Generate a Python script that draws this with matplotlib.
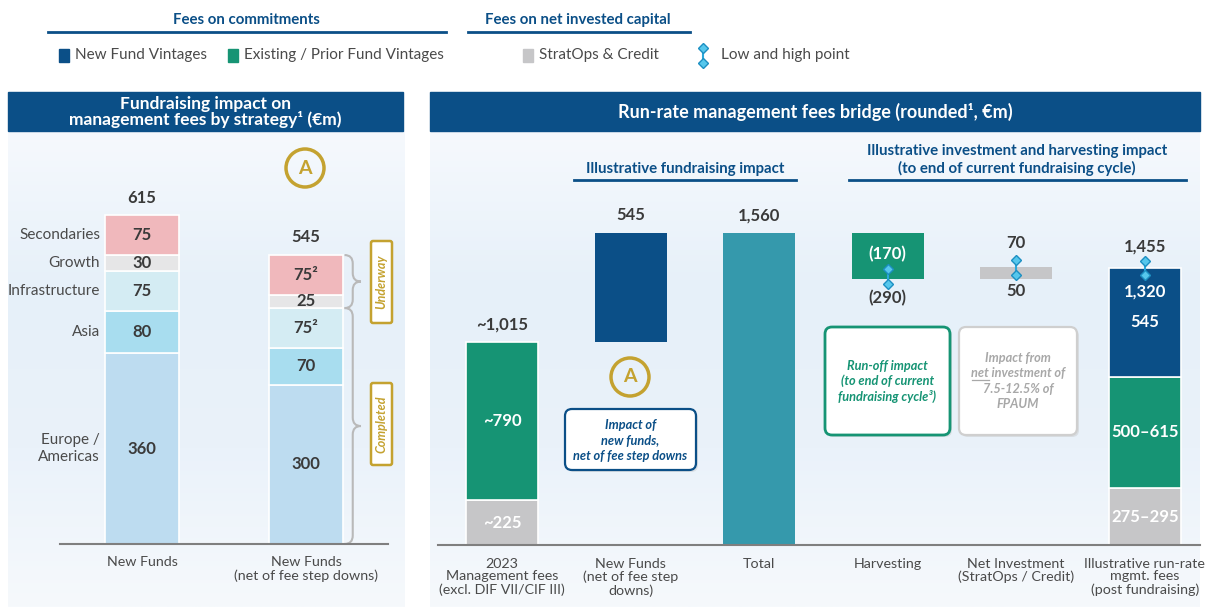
import numpy as np
import matplotlib.pyplot as plt
from matplotlib.patches import Rectangle, FancyBboxPatch, Circle, PathPatch
from matplotlib.path import Path
from matplotlib.colors import LinearSegmentedColormap

plt.rcParams['font.family'] = ['Lato', 'DejaVu Sans']

W, H = 1206, 609

# ---- left chart data ----
strategies = ["Europe /\nAmericas", "Asia", "Infrastructure", "Growth", "Secondaries"]
new_funds = [360, 80, 75, 30, 75]
new_funds_net = [300, 70, 75, 25, 75]
new_funds_labels = ["360", "80", "75", "30", "75"]
new_funds_net_labels = ["300", "70", "75²", "25", "75²"]
left_totals = ["615", "545"]
left_cats = ["New Funds", "New Funds\n(net of fee step downs)"]
strategy_colors = ["#BDDCF0", "#A8DDEF", "#D4ECF3", "#E6E6E7", "#F0B8BC"]

# ---- right chart data ----
bridge_cats = ["2023\nManagement fees\n(excl. DIF VII/CIF III)",
               "New Funds\n(net of fee step\ndowns)",
               "Total", "Harvesting",
               "Net Investment\n(StratOps / Credit)",
               "Illustrative run-rate\nmgmt. fees\n(post fundraising)"]
mgmt_2023 = [225, 790]          # StratOps & Credit, existing vintages
mgmt_2023_labels = ["~225", "~790"]
mgmt_2023_total = "~1,015"
new_fund_impact = 545
total_after = 1560
harvest_range = [170, 290]
net_inv_range = [50, 70]
runrate_stratops = [275, 295]
runrate_existing = [500, 615]
runrate_new = 545
runrate_range = [1320, 1455]
# low / high markers as drawn (illustrative, not to scale)
marker_harvest = [1305, 1380]
marker_netinv = [1350, 1425]
marker_runrate = [1350, 1420]

BLUE = "#0B4F87"
GREEN = "#169474"
GREY = "#C6C6C8"
TEAL = "#3599AC"
GOLD = "#C4A230"
TXT = "#3A3A3A"
LBL = "#4A4A4A"
MK_LINE = "#2AA8DA"
MK_FACE = "#56C7EC"
MK_EDGE = "#1C8FC2"
VAL = 12  # value label size

fig = plt.figure(figsize=(W / 100, H / 100), dpi=100)
fig.patch.set_facecolor("white")

bg = fig.add_axes([0, 0, 1, 1])
bg.set_xlim(0, W)
bg.set_ylim(H, 0)
bg.axis("off")

# panel gradients
cmap = LinearSegmentedColormap.from_list(
    "bgpanel", ["#F6F9FD", "#E6F0F9", "#EAF2FA", "#F6F9FC"])
grad = np.linspace(0, 1, 256).reshape(-1, 1)
for x0, x1 in [(8, 405), (430, 1200)]:
    bg.imshow(grad, cmap=cmap, aspect="auto", extent=(x0, x1, 607, 131),
              zorder=0)
bg.set_xlim(0, W)
bg.set_ylim(H, 0)

# header bands
bg.add_patch(Rectangle((8, 92), 395, 39, color=BLUE, zorder=1))
bg.add_patch(Rectangle((430, 92), 770, 39, color=BLUE, zorder=1))
bg.text(205, 112, "Fundraising impact on\nmanagement fees by strategy¹ (€m)",
        color="white", fontsize=12.5, fontweight="bold", ha="center",
        va="center", linespacing=1.0, zorder=2)
bg.text(815, 112, "Run-rate management fees bridge (rounded¹, €m)",
        color="white", fontsize=13, fontweight="bold", ha="center",
        va="center", zorder=2)

# top legend
bg.text(246, 20, "Fees on commitments", color=BLUE, fontsize=10.8,
        fontweight="bold", ha="center", va="center")
bg.plot([48, 446], [32, 32], color=BLUE, lw=2)
bg.text(578, 20, "Fees on net invested capital", color=BLUE, fontsize=10.8,
        fontweight="bold", ha="center", va="center")
bg.plot([468, 690], [32, 32], color=BLUE, lw=2)
for x, c, t in [(59, BLUE, "New Fund Vintages"),
                (228, GREEN, "Existing / Prior Fund Vintages"),
                (523, GREY, "StratOps & Credit")]:
    bg.add_patch(Rectangle((x, 49), 10, 13, color=c))
    bg.text(x + 16, 55.5, t, color=LBL, fontsize=11, va="center")
bg.plot([703, 703], [48, 63], color=MK_LINE, lw=1.5, marker="D", ms=5,
        mfc=MK_FACE, mec=MK_EDGE)
bg.text(721, 55.5, "Low and high point", color=LBL, fontsize=11, va="center")


def circle_a(x, y):
    bg.add_patch(Circle((x, y), 19, facecolor="none", edgecolor=GOLD, lw=2.5,
                        zorder=3))
    bg.text(x, y, "A", color=GOLD, fontsize=14, fontweight="bold",
            ha="center", va="center", zorder=4)


def note_box(x, y, w, h, edge, lines, color, ys, lw=1.6):
    bg.add_patch(FancyBboxPatch((x + 2, y + 2), w, h,
                                boxstyle="round,pad=0,rounding_size=7",
                                facecolor="#D9DEE3", edgecolor="none",
                                zorder=2))
    bg.add_patch(FancyBboxPatch((x, y), w, h,
                                boxstyle="round,pad=0,rounding_size=7",
                                facecolor="white", edgecolor=edge, lw=lw,
                                zorder=3))
    texts = []
    for t, yy in zip(lines, ys):
        texts.append(bg.text(x + w / 2, yy, t, color=color, fontsize=9.2,
                             fontweight="bold", style="italic", ha="center",
                             va="baseline", zorder=4))
    return texts


# ---------- left chart ----------
axL = fig.add_axes([60 / W, 1 - 544 / H, 328 / W, 404 / H])
axL.set_facecolor("none")
axL.set_xlim(-0.5, 1.5)
axL.set_ylim(0, 762)
bw = 0.45
for i, (vals, labs) in enumerate([(new_funds, new_funds_labels),
                                  (new_funds_net, new_funds_net_labels)]):
    bottoms = np.concatenate([[0], np.cumsum(vals)[:-1]])
    axL.bar(i, vals, bw, bottom=bottoms, color=strategy_colors,
            edgecolor="white", lw=1.2)
    for b, v, t in zip(bottoms, vals, labs):
        axL.text(i, b + v / 2, t, color=TXT, fontsize=VAL, fontweight="bold",
                 ha="center", va="center")
    axL.annotate(left_totals[i], (i, sum(vals)), xytext=(0, 7),
                 textcoords="offset points", ha="center", va="bottom",
                 color=TXT, fontsize=VAL, fontweight="bold")
bottoms0 = np.concatenate([[0], np.cumsum(new_funds)[:-1]])
for b, v, s in zip(bottoms0, new_funds, strategies):
    axL.text(-bw / 2 - 0.03, b + v / 2, s, color=LBL, fontsize=11,
             ha="right", va="center", linespacing=1.2)
axL.set_xticks([0, 1], left_cats)
axL.tick_params(length=0, pad=9, labelsize=10.3, labelcolor=LBL)
for lab in axL.get_xticklabels():
    lab.set_linespacing(1.1)
for s in ["top", "right", "left"]:
    axL.spines[s].set_visible(False)
axL.spines["bottom"].set_color("#7F7F7F")
axL.spines["bottom"].set_linewidth(1.5)
axL.set_yticks([])


def brace(ax, x, y0, y1, w, d, color="#B9B9B9"):
    ym = (y0 + y1) / 2
    verts = [(x, y1), (x + w / 2, y1), (x + w / 2, y1 - d),
             (x + w / 2, ym + d),
             (x + w / 2, ym), (x + w, ym),
             (x + w / 2, ym), (x + w / 2, ym - d),
             (x + w / 2, y0 + d),
             (x + w / 2, y0), (x, y0)]
    codes = [Path.MOVETO, Path.CURVE3, Path.CURVE3, Path.LINETO,
             Path.CURVE3, Path.CURVE3, Path.CURVE3, Path.CURVE3,
             Path.LINETO, Path.CURVE3, Path.CURVE3]
    ax.add_patch(PathPatch(Path(verts, codes), facecolor="none",
                           edgecolor=color, lw=1.5, clip_on=False))


cum_net = np.cumsum(new_funds_net)
brace(axL, 1 + bw / 2 + 0.01, cum_net[2], cum_net[4], 0.1, 16)
brace(axL, 1 + bw / 2 + 0.01, 0, cum_net[2], 0.1, 16)

for yc, t in [(282, "Underway"), (424, "Completed")]:
    bg.add_patch(FancyBboxPatch((371, yc - 41), 21, 82,
                                boxstyle="round,pad=0,rounding_size=2",
                                facecolor="white", edgecolor=GOLD, lw=1.8,
                                zorder=3))
    bg.text(381.5, yc, t, color=GOLD, fontsize=9, fontweight="bold",
            style="italic", rotation=90, ha="center", va="center", zorder=4)
circle_a(305, 168)

# ---------- right chart ----------
axR = fig.add_axes([438 / W, 1 - 545 / H, 762 / W, 405 / H])
axR.set_facecolor("none")
axR.set_xlim(-0.5, 5.43)
axR.set_ylim(0, 2025)
rw = 0.56

# 2023 management fees
axR.bar(0, mgmt_2023, rw, bottom=[0, mgmt_2023[0]], color=[GREY, GREEN],
        edgecolor="white", lw=1.2)
for b, v, t in zip([0, mgmt_2023[0]], mgmt_2023, mgmt_2023_labels):
    axR.text(0, b + v / 2, t, color="white", fontsize=VAL, fontweight="bold",
             ha="center", va="center")
start = sum(mgmt_2023)
axR.annotate(mgmt_2023_total, (0, start), xytext=(0, 7),
             textcoords="offset points", ha="center", va="bottom", color=TXT,
             fontsize=VAL, fontweight="bold")

# new funds (floating)
axR.bar(1, new_fund_impact, rw, bottom=start, color=BLUE)
axR.annotate(f"{new_fund_impact:,}", (1, start + new_fund_impact),
             xytext=(0, 7), textcoords="offset points", ha="center",
             va="bottom", color=TXT, fontsize=VAL, fontweight="bold")

# total
axR.bar(2, total_after, rw, color=TEAL)
axR.annotate(f"{total_after:,}", (2, total_after), xytext=(0, 7),
             textcoords="offset points", ha="center", va="bottom", color=TXT,
             fontsize=VAL, fontweight="bold")

# harvesting
h_mid = np.mean(harvest_range)
h_bot = total_after - h_mid
axR.bar(3, h_mid, rw, bottom=h_bot, color=GREEN)
axR.text(3, h_bot + h_mid / 2 + 10, f"({harvest_range[0]})", color="white",
         fontsize=VAL, fontweight="bold", ha="center", va="center")
axR.annotate(f"({harvest_range[1]})", (3, h_bot), xytext=(0, -14),
             textcoords="offset points", ha="center", va="center", color=TXT,
             fontsize=VAL, fontweight="bold")

# net investment
n_mid = np.mean(net_inv_range)
axR.bar(4, n_mid, rw, bottom=h_bot, color=GREY)
axR.annotate(f"{net_inv_range[1]}", (4, h_bot + n_mid), xytext=(0, 17),
             textcoords="offset points", ha="center", va="center", color=TXT,
             fontsize=VAL, fontweight="bold")
axR.annotate(f"{net_inv_range[0]}", (4, h_bot), xytext=(0, -9),
             textcoords="offset points", ha="center", va="center", color=TXT,
             fontsize=VAL, fontweight="bold")

# illustrative run-rate
rr = [np.mean(runrate_stratops), np.mean(runrate_existing), runrate_new]
rr_b = [0, rr[0], rr[0] + rr[1]]
axR.bar(5, rr, rw, bottom=rr_b, color=[GREY, GREEN, BLUE], edgecolor="white",
        lw=1.2)
rr_labels = ["{}–{}".format(*runrate_stratops),
             "{}–{}".format(*runrate_existing), f"{runrate_new}"]
for b, v, t in zip(rr_b, rr, rr_labels):
    axR.text(5, b + v / 2, t, color="white", fontsize=VAL, fontweight="bold",
             ha="center", va="center")
rr_top = sum(rr)
axR.annotate(f"{runrate_range[1]:,}", (5, rr_top), xytext=(0, 15),
             textcoords="offset points", ha="center", va="center", color=TXT,
             fontsize=VAL, fontweight="bold")
axR.annotate(f"{runrate_range[0]:,}", (5, rr_top), xytext=(0, -17),
             textcoords="offset points", ha="center", va="center",
             color="white", fontsize=VAL, fontweight="bold")

for x, (lo, hi) in zip([3, 4, 5], [marker_harvest, marker_netinv,
                                   marker_runrate]):
    axR.plot([x, x], [lo, hi], color=MK_LINE, lw=1.5, marker="D", ms=5,
             mfc=MK_FACE, mec=MK_EDGE, zorder=5)

axR.set_xticks(range(len(bridge_cats)), bridge_cats)
axR.tick_params(length=0, pad=9, labelsize=10.3, labelcolor=LBL)
for lab in axR.get_xticklabels():
    lab.set_linespacing(1.1)
    lab.set_verticalalignment("top")
for s in ["top", "right", "left"]:
    axR.spines[s].set_visible(False)
axR.spines["bottom"].set_color("#7F7F7F")
axR.spines["bottom"].set_linewidth(1.5)
axR.set_yticks([])

# sub-headers
bg.text(685, 169, "Illustrative fundraising impact", color=BLUE, fontsize=10.8,
        fontweight="bold", ha="center", va="center")
bg.plot([574, 796], [180, 180], color=BLUE, lw=2)
bg.text(1017, 160, "Illustrative investment and harvesting impact\n"
        "(to end of current fundraising cycle)", color=BLUE, fontsize=10.8,
        fontweight="bold", ha="center", va="center", linespacing=1.25)
bg.plot([849, 1186], [180, 180], color=BLUE, lw=2)

circle_a(630, 377)
note_box(565, 409, 131, 61, BLUE,
         ["Impact of", "new funds,", "net of fee step downs"], BLUE,
         [429, 445, 460])
note_box(825, 327, 125, 108, GREEN,
         ["Run-off impact", "(to end of current", "fundraising cycle³)"], GREEN,
         [370, 385, 401], lw=2)
grey_txt = note_box(959, 327, 118, 108, "#CFCFCF",
                    ["Impact from", "net investment of", "7.5-12.5% of",
                     "FPAUM"], "#A8A8A8", [362, 377, 393, 408])

# underline the word "net" in the grey box
fig.canvas.draw()
rend = fig.canvas.get_renderer()
inv = bg.transData.inverted()
line_bb = grey_txt[1].get_window_extent(rend)
probe = bg.text(0, 0, "net", fontsize=9.2, fontweight="bold", style="italic")
net_w = probe.get_window_extent(rend).width
probe.remove()
(ux0, _), (ux1, _) = inv.transform([(line_bb.x0, 0), (line_bb.x0 + net_w, 0)])
bg.plot([ux0 + 1, ux1], [379.5, 379.5], color="#A8A8A8", lw=0.9, zorder=5)

fig.savefig("out.png", dpi=100)
